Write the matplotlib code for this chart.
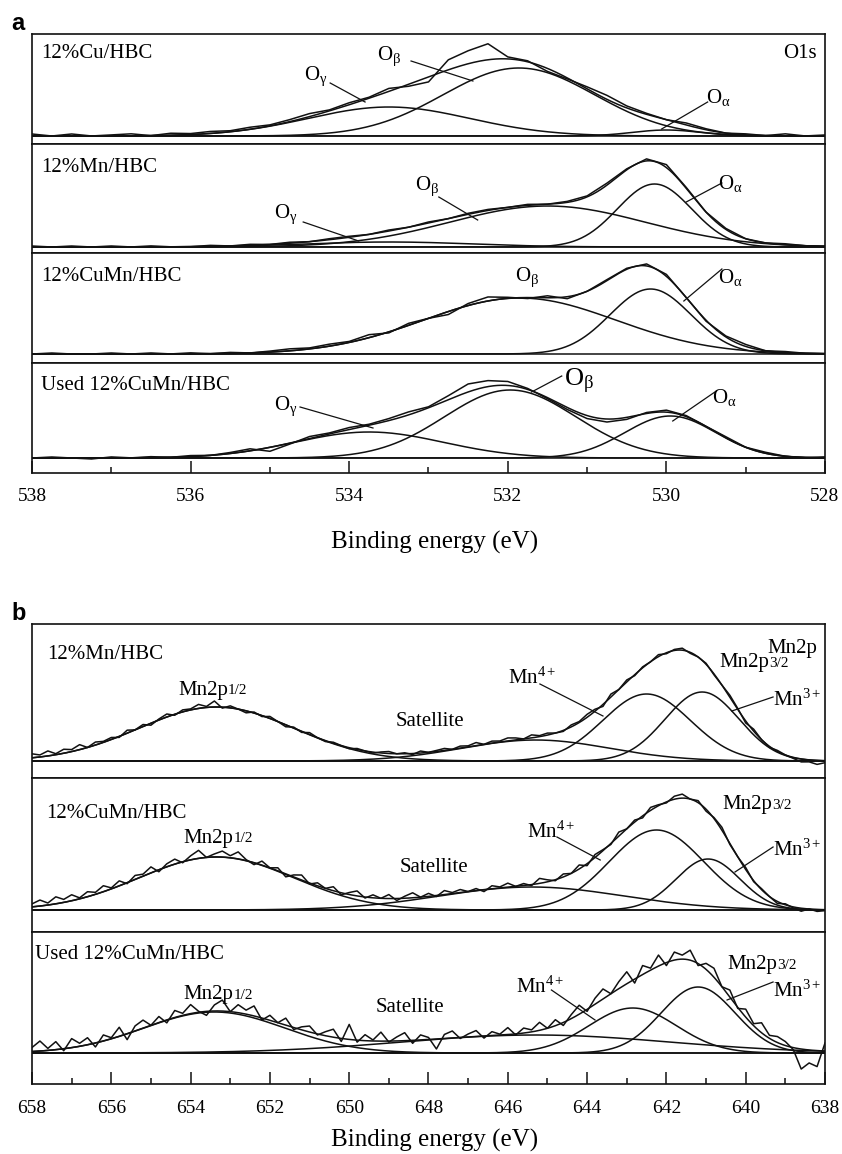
import numpy as np
import matplotlib
matplotlib.use("Agg")
import matplotlib.pyplot as plt
from matplotlib.ticker import MultipleLocator

plt.rcParams['font.family'] = ['Liberation Serif', 'DejaVu Serif']
plt.rcParams['mathtext.fontset'] = 'custom'
plt.rcParams['mathtext.rm'] = 'Liberation Serif'
plt.rcParams['mathtext.it'] = 'Liberation Serif:italic'
plt.rcParams['mathtext.bf'] = 'Liberation Serif:bold'

# ---------------- Panel a : O1s ----------------
o1s_samples = ["12%Cu/HBC", "12%Mn/HBC", "12%CuMn/HBC", "Used 12%CuMn/HBC"]
# fitted components: centre (eV), height (a.u.), FWHM (eV); height 0 -> absent
oa_center = [530.0, 530.15, 530.2, 529.95]
oa_height = [6, 63, 65, 42]
oa_fwhm = [1.0, 1.1, 1.2, 1.35]
ob_center = [531.86, 531.5, 531.85, 531.97]
ob_height = [68, 41, 56, 68]
ob_fwhm = [2.25, 2.9, 2.85, 1.95]
og_center = [533.5, 533.5, 533.5, 533.75]
og_height = [29, 5, 0, 26]
og_fwhm = [2.4, 2.5, 2.5, 2.2]
# measured spectrum = fit envelope + residual, sampled every 0.25 eV from 538 to 528
o1s_energy = np.linspace(538, 528, 41)
o1s_resid_cu = [2, 0, 2, 0, 1, 2, 0, 2, 1, 2,
                1, 2, 1, 2, 3, 1, 2, 1, 3, -2,
                -5, 10, 13, 16, 2, 1, -3, -1, 2, 4,
                2, 1, 0, 2, 1, 0, 1, 0, 2, 0, 1]
o1s_resid_mn = [1, 0, 1, 0, 1, 0, 1, 0, 0, 1,
                0, 1, 0, 1, 0, 1, 1, 0, 1, 0,
                1, 0, 1, 1, 0, 1, 0, 1, 1, 2,
                1, 2, 3, 1, 0, 1, 0, 0, 1, 0, 0]
o1s_resid_cumn = [0, 1, 0, 0, 1, 0, 1, 0, 1, 0,
                  1, 0, 1, 2, 1, 2, 1, 3, -1, 2,
                  0, -3, 2, 4, 1, -1, 2, -2, 0, 1,
                  1, 2, 2, 0, -1, 1, 2, 0, 1, 0, 0]
o1s_resid_used = [0, 1, 0, -1, 1, 0, 1, 0, 1, 0,
                  1, 2, -4, -1, 2, 1, 2, 1, 2, 3,
                  1, 4, 8, 6, 4, 1, -1, -2, -3, -3,
                  -2, 1, 2, 1, 0, 1, 0, 1, 0, 0, 1]
o1s_ticks = [538, 536, 534, 532, 530, 528]

# ---------------- Panel b : Mn2p ----------------
mn_samples = ["12%Mn/HBC", "12%CuMn/HBC", "Used 12%CuMn/HBC"]
p12_center = [653.35, 653.35, 653.4]
p12_height = [54, 53, 41]
p12_fwhm = [4.6, 4.6, 4.2]
sat_center = [645.3, 645.4, 645.3]
sat_height = [21, 23, 18]
sat_fwhm = [4.4, 5.5, 8.0]
mn4_center = [642.5, 642.25, 642.85]
mn4_height = [67, 80, 45]
mn4_fwhm = [2.6, 2.8, 2.6]
mn3_center = [641.1, 640.95, 641.2]
mn3_height = [69, 51, 66]
mn3_fwhm = [2.2, 1.9, 2.2]
# measured spectrum = envelope + residual, sampled every 0.2 eV from 658 to 638
mn_energy = np.linspace(658, 638, 101)
mn_resid_mn = [4, 2, 5, 1, 4, 2, 5, 0, 3, 1,
               2, -1, 3, 0, 2, -2, 1, 3, -1, 2,
               1, 4, 1, 6, -1, 2, 0, -2, 1, -1,
               2, 0, -2, 1, -1, 2, 0, -1, 1, 0,
               -1, 1, 0, -1, 1, 2, 0, 1, -1, 2,
               0, 1, 2, 0, 2, 1, 3, 0, 2, 1,
               3, 2, 0, 3, 1, 2, 0, -1, 2, 1,
               3, 2, -2, 3, 0, 2, -1, 1, 0, 2,
               -1, 1, 2, -1, 0, 1, -1, 0, 2, 1,
               -2, 2, 0, -1, 1, 0, -1, -3, -2, -4, -2]
mn_resid_cumn = [3, 6, 2, 7, 3, 6, 1, 5, 2, 6,
                 1, 5, -1, 4, 2, 6, -2, 3, 5, -1,
                 4, 8, 0, 3, 6, 2, 7, 1, -2, 4,
                 0, 3, -3, 2, 5, -1, 3, 0, 4, -2,
                 2, 5, -1, 3, 0, 4, -2, 2, 5, 0,
                 3, -1, 4, 1, 3, 0, 2, -2, 3, 1,
                 4, 0, 2, -1, 5, 2, -1, 3, 0, 4,
                 -2, 3, 1, -1, 4, 0, 2, -2, 3, 1,
                 -1, 3, 4, 0, 2, -2, 1, 3, -1, 0,
                 2, -1, 1, 0, -2, 1, -1, -3, 0, -2, -1]
mn_resid_used = [4, 10, 2, 8, -2, 9, 3, 7, -4, 6,
                 1, 9, -6, 5, 8, 0, 6, -3, 7, 2,
                 9, 1, -4, 6, 11, 0, 8, 4, 10, -2,
                 5, 0, 7, -2, 3, 6, -1, 4, 8, -3,
                 15, -2, 6, 1, 9, -1, 4, 8, -3, 5,
                 2, -10, 4, 7, -1, 3, 6, -2, 4, 1,
                 7, -1, 5, 2, 8, 0, 6, -3, 4, 9,
                 -2, 6, 10, 0, 7, 12, -4, 9, 2, 11,
                 -3, 8, 4, 10, -2, 6, 9, 0, 7, -1,
                 8, 2, 10, 3, 6, 4, -2, -20, -13, -16, 8]
mn_ticks = [658, 656, 654, 652, 650, 648, 646, 644, 642, 640, 638]


def gauss(e, c, h, w):
    return h * np.exp(-4 * np.log(2) * (e - c) ** 2 / w ** 2)


W, H = 842, 1154
fig = plt.figure(figsize=(W / 100, H / 100), dpi=100)
LW = 1.1
K = '#111111'


def make_ax(top, bottom):
    ax = fig.add_axes([32 / W, 1 - bottom / H, 793 / W, (bottom - top) / H])
    for s in ax.spines.values():
        s.set_linewidth(1.2)
        s.set_color(K)
    ax.set_yticks([])
    return ax


def bottom_ticks(ax, pad):
    ax.xaxis.set_major_locator(MultipleLocator(2))
    ax.xaxis.set_minor_locator(MultipleLocator(1))
    ax.tick_params(axis='x', which='major', direction='in', length=8.6,
                   width=1.1, labelsize=14, pad=pad, color=K)
    ax.tick_params(axis='x', which='minor', direction='in', length=4.3,
                   width=1.1, color=K)


def line(ax, p, q):
    ax.plot([p[0], q[0]], [p[1], q[1]], color=K, lw=0.9)


# ---------- panel a ----------
a_bounds = [(34, 144), (144, 253), (253, 363), (363, 473)]
a_ylims = [(-8, 102), (-6, 103), (-9, 101), (-15, 95)]
o1s_resids = [o1s_resid_cu, o1s_resid_mn, o1s_resid_cumn, o1s_resid_used]
a_label_y = [0.82, 0.78, 0.79, 0.80]
a_annot = [
    [("γ", 534.42, 60, 15, (534.24, 53), (533.8, 34)),
     ("β", 533.5, 80, 15, (533.22, 75), (532.44, 55)),
     ("α", 529.34, 38, 15, (529.48, 34), (530.06, 7))],
    [("γ", 534.8, 33, 15, (534.58, 25), (533.88, 6)),
     ("β", 533.02, 61, 15, (532.87, 50), (532.38, 27)),
     ("α", 529.2, 64, 15, (529.3, 64), (529.75, 45))],
    [("β", 531.76, 77, 15, None, None),
     ("α", 529.2, 77, 15, (529.3, 85), (529.78, 53))],
    [("γ", 534.8, 52, 15, (534.62, 51), (533.7, 30)),
     ("β", 531.1, 77, 19, (531.32, 82), (531.7, 66)),
     ("α", 529.27, 60, 15, (529.37, 67), (529.92, 37))],
]
ef = np.linspace(538, 528, 1001)
for i in range(4):
    ax = make_ax(*a_bounds[i])
    ax.set_xlim(538, 528)
    ax.set_ylim(*a_ylims[i])
    comps = [(oa_center[i], oa_height[i], oa_fwhm[i]),
             (ob_center[i], ob_height[i], ob_fwhm[i]),
             (og_center[i], og_height[i], og_fwhm[i])]
    env = np.zeros_like(ef)
    env_raw = np.zeros_like(o1s_energy)
    for c, h, w in comps:
        if h <= 0:
            continue
        g = gauss(ef, c, h, w)
        env += g
        env_raw += gauss(o1s_energy, c, h, w)
        ax.plot(ef, g, color=K, lw=LW)
    ax.plot(ef, env, color=K, lw=LW)
    ax.plot(o1s_energy, env_raw + np.array(o1s_resids[i]), color=K, lw=LW)
    ax.axhline(0, color=K, lw=LW)
    ax.text(0.011, a_label_y[i], o1s_samples[i], transform=ax.transAxes,
            fontsize=15, ha='left', va='center')
    for g_, x, y, fs, p, q in a_annot[i]:
        ax.text(x, y, "O$_{\\mathrm{%s}}$" % g_, fontsize=fs, ha='center', va='center')
        if p is not None:
            line(ax, p, q)
    if i == 0:
        ax.text(0.99, 0.82, "O1s", transform=ax.transAxes, fontsize=15,
                ha='right', va='center')
    if i < 3:
        ax.set_xticks([])
    else:
        bottom_ticks(ax, 10.5)
        ax.set_xticks(o1s_ticks)
        ax.set_xticklabels([str(t) for t in o1s_ticks])
        ax.xaxis.set_minor_locator(MultipleLocator(1))

fig.text(435 / W, 1 - 542 / H, "Binding energy (eV)", fontsize=18,
         ha='center', va='center')
fig.text(11 / W, 1 - 24 / H, "a", fontsize=17, fontweight='bold',
         family='Liberation Sans', ha='left', va='center')

# ---------- panel b ----------
b_bounds = [(624, 778), (778, 932), (932, 1084)]
b_ylims = [(-17, 137), (-22, 132), (-31, 121)]
mn_resids = [mn_resid_mn, mn_resid_cumn, mn_resid_used]
b_label_pos = [(0.019, 0.80), (0.018, 0.77), (0.004, 0.85)]
b_p12 = [(654.32, 71), (654.17, 72), (654.17, 58)]
b_sat = [(647.96, 40), (647.86, 43), (648.47, 46)]
b_mn4 = [(646.0, 83, (645.19, 77), (643.6, 45)),
         (645.52, 78, (644.76, 73), (643.67, 50)),
         (645.79, 66, (644.9, 63), (643.8, 33))]
b_p32 = [(640.67, 98), (640.6, 105), (640.47, 88)]
b_mn3 = [(639.31, 61, (639.31, 64), (640.35, 50)),
         (639.31, 60, (639.31, 63), (640.27, 38)),
         (639.31, 62, (639.31, 71), (640.47, 53))]

ef2 = np.linspace(658, 638, 1001)


def mn2p_label(ax, x, y, sub):
    t = ax.text(x, y, "Mn2p", fontsize=15, ha='left', va='center')
    ax.annotate(sub, xy=(1, 0.12), xycoords=t, fontsize=11, ha='left', va='bottom')


for i in range(3):
    ax = make_ax(*b_bounds[i])
    ax.set_xlim(658, 638)
    ax.set_ylim(*b_ylims[i])
    comps = [(p12_center[i], p12_height[i], p12_fwhm[i]),
             (sat_center[i], sat_height[i], sat_fwhm[i]),
             (mn4_center[i], mn4_height[i], mn4_fwhm[i]),
             (mn3_center[i], mn3_height[i], mn3_fwhm[i])]
    env = np.zeros_like(ef2)
    env_raw = np.zeros_like(mn_energy)
    for c, h, w in comps:
        g = gauss(ef2, c, h, w)
        env += g
        env_raw += gauss(mn_energy, c, h, w)
        ax.plot(ef2, g, color=K, lw=LW)
    ax.plot(ef2, env, color=K, lw=LW)
    ax.plot(mn_energy, env_raw + np.array(mn_resids[i]), color=K, lw=LW)
    ax.axhline(0, color=K, lw=LW)
    ax.text(b_label_pos[i][0], b_label_pos[i][1], mn_samples[i],
            transform=ax.transAxes, fontsize=15, ha='left', va='center')
    mn2p_label(ax, b_p12[i][0], b_p12[i][1], "1/2")
    mn2p_label(ax, b_p32[i][0], b_p32[i][1], "3/2")
    ax.text(b_sat[i][0], b_sat[i][1], "Satellite", fontsize=15, ha='center', va='center')
    x4, y4, p4, q4 = b_mn4[i]
    ax.text(x4, y4, "Mn$^{\\mathrm{4+}}$", fontsize=15, ha='left', va='center')
    line(ax, p4, q4)
    x3, y3, p3, q3 = b_mn3[i]
    ax.text(x3, y3, "Mn$^{\\mathrm{3+}}$", fontsize=15, ha='left', va='center')
    line(ax, p3, q3)
    if i == 0:
        ax.text(0.99, 0.84, "Mn2p", transform=ax.transAxes, fontsize=15,
                ha='right', va='center')
    if i < 2:
        ax.set_xticks([])
    else:
        bottom_ticks(ax, 11.5)
        ax.set_xticks(mn_ticks)
        ax.set_xticklabels([str(t) for t in mn_ticks])
        ax.xaxis.set_minor_locator(MultipleLocator(1))

fig.text(435 / W, 1 - 1140 / H, "Binding energy (eV)", fontsize=18,
         ha='center', va='center')
fig.text(11 / W, 1 - 613 / H, "b", fontsize=17, fontweight='bold',
         family='Liberation Sans', ha='left', va='center')

fig.savefig("out.png", dpi=100)
